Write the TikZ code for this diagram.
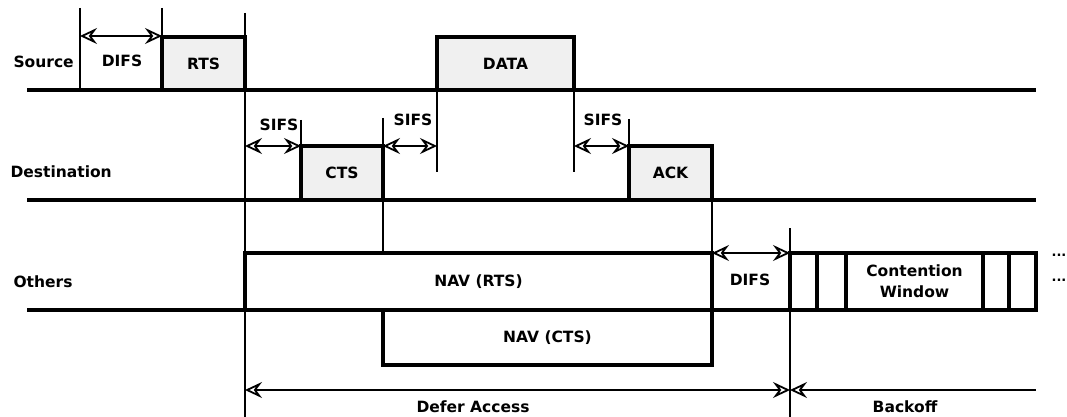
\documentclass[tikz,border=0pt]{standalone}
\usepackage{fontspec}
\setmainfont{DejaVu Sans}
\usetikzlibrary{arrows.meta}

\begin{document}
\begin{tikzpicture}[x=1pt,y=-1pt,
  font=\fontsize{15.5}{21}\selectfont\bfseries,
  slot node/.style={draw,line width=3.2pt,inner sep=0pt,outer sep=0pt,anchor=north west},
  busy node/.style={slot node,fill=black!6},
  base line/.style={line width=3.2pt},
  tick/.style={line width=2.6pt},
  gap/.style={{Stealth[open,length=17pt,width=16pt,inset=6pt,line width=1.8pt]}-{Stealth[open,length=17pt,width=16pt,inset=6pt,line width=1.8pt]},line width=2.2pt},
  back gap/.style={{Stealth[open,length=17pt,width=16pt,inset=6pt,line width=1.8pt]}-,line width=2.2pt}]

\useasboundingbox (0,0) rectangle (1067,417);

% stations
\node[anchor=west] (src) at (10,62) {Source};
\node[anchor=west] (dst) at (7,172) {Destination};
\node[anchor=west] (oth) at (10,282) {Others};

\draw[base line] (27,90) -- (1036,90);
\draw[base line] (27,200) -- (1036,200);
\draw[base line] (27,310) -- (1036,310);

% time marks
\draw[tick] (80,8) -- (80,90);
\draw[tick] (162,8) -- (162,90);
\draw[tick] (245,13) -- (245,417);
\draw[tick] (301,120) -- (301,200);
\draw[tick] (383,118) -- (383,253);
\draw[tick] (437,37) -- (437,172);
\draw[tick] (574,37) -- (574,172);
\draw[tick] (629,119) -- (629,200);
\draw[tick] (712,146) -- (712,365);
\draw[tick] (790,228) -- (790,417);

% frames
\node[busy node, minimum width=83pt, minimum height=53pt] (rts) at (162,37) {RTS};
\node[busy node, minimum width=137pt, minimum height=53pt] (data) at (437,37) {DATA};
\node[busy node, minimum width=82pt, minimum height=54pt] (cts) at (301,146) {CTS};
\node[busy node, minimum width=83pt, minimum height=54pt] (ack) at (629,146) {ACK};

\node[slot node, minimum width=467pt, minimum height=57pt] (navrts) at (245,253) {NAV (RTS)};
\node[slot node, minimum width=329pt, minimum height=55pt] (navcts) at (383,310) {NAV (CTS)};

% contention window slots
\node[slot node, minimum width=27pt, minimum height=57pt] (cw0) at (790,253) {};
\node[slot node, minimum width=29pt, minimum height=57pt] (cw1) at (817,253) {};
\node[slot node, minimum width=137pt, minimum height=57pt, align=center] (cw2) at (846,253) {Contention\\Window};
\node[slot node, minimum width=26pt, minimum height=57pt] (cw3) at (983,253) {};
\node[slot node, minimum width=27pt, minimum height=57pt] (cw4) at (1009,253) {};

\node[font=\fontsize{13}{13}\selectfont\bfseries] (more0) at (1059,255) {...};
\node[font=\fontsize{13}{13}\selectfont\bfseries] (more1) at (1059,280) {...};

% interframe spaces
\coordinate (a0) at (80,36);
\coordinate (a1) at (162,36);
\coordinate (b0) at (245,146);
\coordinate (b1) at (301,146);
\coordinate (c0) at (383,146);
\coordinate (c1) at (437,146);
\coordinate (e0) at (574,146);
\coordinate (e1) at (629,146);
\coordinate (f0) at (712,253);
\coordinate (f1) at (790,253);
\coordinate (g0) at (245,390);
\coordinate (g1) at (790,390);
\coordinate (g2) at (1036,390);

\path (a0) [gap] edge (a1);
\path (b0) [gap] edge (b1);
\path (c0) [gap] edge (c1);
\path (e0) [gap] edge (e1);
\path (f0) [gap] edge (f1);
\path (g0) [gap] edge (g1);
\path (g1) [back gap] edge (g2);

\node (difs0) at (122,61) {DIFS};
\node (sifs0) at (279,125) {SIFS};
\node (sifs1) at (413,120) {SIFS};
\node (sifs2) at (603,120) {SIFS};
\node (difs1) at (750,280) {DIFS};
\node (defer) at (473,407) {Defer Access};
\node (backoff) at (905,407) {Backoff};
\end{tikzpicture}
\end{document}
